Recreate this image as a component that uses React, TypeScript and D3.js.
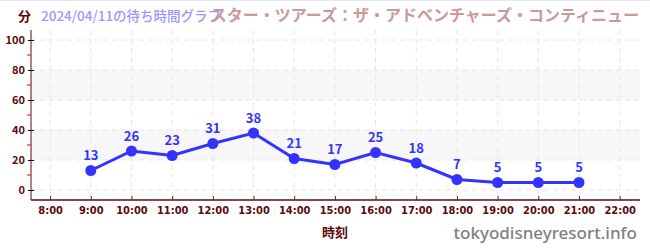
import React, { useRef, useEffect } from 'react';
import * as d3 from 'd3';

// wait times per hour
const hours = [9, 10, 11, 12, 13, 14, 15, 16, 17, 18, 19, 20, 21];
const waits = [13, 26, 23, 31, 38, 21, 17, 25, 18, 7, 5, 5, 5];
const hourTicks = [8, 9, 10, 11, 12, 13, 14, 15, 16, 17, 18, 19, 20, 21, 22];
const yTicks = [0, 20, 40, 60, 80, 100];
const yMinorTicks = [10, 30, 50, 70, 90];
const bands = [[20, 40], [60, 80]];

const dateLabel = '2024/04/11の待ち時間グラフ';
const attraction = 'スター・ツアーズ：ザ・アドベンチャーズ・コンティニュー';

const W = 650;
const H = 250;

const App = () => {
  const svgRef = useRef<SVGSVGElement>(null);

  useEffect(() => {
    if (!svgRef.current) return;
    const svg = d3.select(svgRef.current);
    svg.selectAll('*').remove();

    const left = 31, right = 640, top = 30, bottom = 200;
    const font = '"Noto Sans CJK JP", "Noto Sans", sans-serif';
    const maroon = '#5c0a0a';

    const x = d3.scaleLinear().domain([7.53, 22.5]).range([left, right]);
    const y = d3.scaleLinear().domain([-6.67, 106.67]).range([bottom, top]);

    // shaded bands
    svg.append('g').selectAll('rect')
      .data(bands)
      .enter().append('rect')
      .attr('x', left)
      .attr('width', right - left)
      .attr('y', d => y(d[1]))
      .attr('height', d => y(d[0]) - y(d[1]))
      .attr('fill', '#f7f7f7');

    // grid
    const grid = svg.append('g')
      .attr('stroke', '#e6e6e6')
      .attr('stroke-dasharray', '5,4');
    grid.selectAll('.h')
      .data(yTicks)
      .enter().append('line')
      .attr('x1', left).attr('x2', right)
      .attr('y1', d => y(d)).attr('y2', d => y(d));
    grid.selectAll('.v')
      .data(hourTicks)
      .enter().append('line')
      .attr('x1', d => x(d)).attr('x2', d => x(d))
      .attr('y1', top).attr('y2', bottom);

    // y axis
    const yAxis = svg.append('g')
      .attr('transform', `translate(${left},0)`)
      .call(d3.axisLeft(y).tickValues(yTicks).tickSize(3).tickPadding(3));
    yAxis.select('.domain').attr('stroke', maroon).attr('d', `M0,${top}V${bottom}`);
    yAxis.selectAll('.tick line').attr('stroke', '#000').attr('x2', 3).attr('x1', -3);
    yAxis.selectAll('.tick text')
      .attr('fill', maroon)
      .style('font-family', font)
      .style('font-size', '11px')
      .style('font-weight', 'bold');
    svg.append('g').selectAll('line')
      .data(yMinorTicks)
      .enter().append('line')
      .attr('x1', left - 4).attr('x2', left)
      .attr('y1', d => y(d)).attr('y2', d => y(d))
      .attr('stroke', '#e00');

    // x axis
    const xAxis = svg.append('g')
      .attr('transform', `translate(0,${bottom})`)
      .call(d3.axisBottom(x).tickValues(hourTicks).tickSize(0).tickPadding(6)
        .tickFormat(d => `${d}:00`));
    xAxis.select('.domain').attr('stroke', maroon).attr('stroke-width', 1.5).attr('d', `M${left},0H${right}`);
    xAxis.selectAll('.tick line').attr('y2', -4).attr('stroke', '#333');
    xAxis.selectAll('.tick text')
      .attr('fill', maroon)
      .style('font-family', '"Liberation Sans Narrow", "DejaVu Sans Condensed", sans-serif')
      .style('font-size', '11px')
      .style('font-weight', 'bold');

    // line
    const line = d3.line<number>()
      .x((d, i) => x(hours[i]))
      .y(d => y(d));
    svg.append('path')
      .datum(waits)
      .attr('d', line)
      .attr('fill', 'none')
      .attr('stroke', '#3333ff')
      .attr('stroke-width', 3);
    svg.append('g').selectAll('circle')
      .data(waits)
      .enter().append('circle')
      .attr('cx', (d, i) => x(hours[i]))
      .attr('cy', d => y(d))
      .attr('r', 5.5)
      .attr('fill', '#3333ff');
    svg.append('g').selectAll('text')
      .data(waits)
      .enter().append('text')
      .attr('x', (d, i) => x(hours[i]))
      .attr('y', d => y(d) - 10)
      .attr('text-anchor', 'middle')
      .attr('fill', '#3333ff')
      .style('font-family', font)
      .style('font-size', '13px')
      .style('font-weight', 'bold')
      .text(d => d);

    // titles
    svg.append('text')
      .attr('x', 18).attr('y', 21)
      .attr('fill', maroon)
      .style('font-family', font)
      .style('font-size', '13px')
      .style('font-weight', 'bold')
      .text('分');
    svg.append('text')
      .attr('x', 41).attr('y', 21)
      .attr('fill', '#9999ff')
      .style('font-family', font)
      .style('font-size', '13.5px')
      .style('font-weight', 500)
      .text(dateLabel);
    svg.append('text')
      .attr('x', 639).attr('y', 21)
      .attr('text-anchor', 'end')
      .attr('fill', '#cc9999')
      .style('font-family', font)
      .style('font-size', '16px')
      .style('font-weight', 'bold')
      .text(attraction);
    svg.append('text')
      .attr('x', x(15)).attr('y', 237)
      .attr('text-anchor', 'middle')
      .attr('fill', maroon)
      .style('font-family', font)
      .style('font-size', '13px')
      .style('font-weight', 'bold')
      .text('時刻');
    svg.append('text')
      .attr('x', 637).attr('y', 239)
      .attr('text-anchor', 'end')
      .attr('fill', '#808080')
      .style('font-family', '"Noto Sans", sans-serif')
      .style('font-size', '17px')
      .style('font-weight', 500)
      .text('tokyodisneyresort.info');
    svg.append('line')
      .attr('x1', 0).attr('x2', W).attr('y1', 0.5).attr('y2', 0.5)
      .attr('stroke', '#e4e4fa');
  }, []);

  return (
    <svg
      ref={svgRef}
      width={W}
      height={H}
      style={{ position: 'absolute', left: 0, top: 0, background: '#fff' }}
    />
  );
};

export default App;
